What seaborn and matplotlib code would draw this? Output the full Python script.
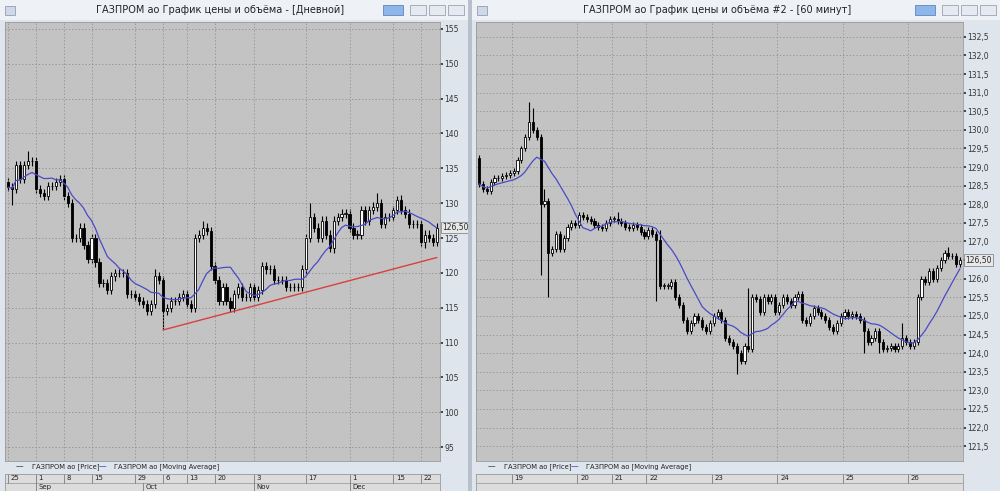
import numpy as np
import pandas as pd
import matplotlib
matplotlib.use("Agg")
import matplotlib.pyplot as plt
import seaborn as sns
from matplotlib.patches import Rectangle

# ---------------- data ----------------
left_title = "ГАЗПРОМ ао График цены и объёма - [Дневной]"
right_title = "ГАЗПРОМ ао График цены и объёма #2 - [60 минут]"
legend_price = "ГАЗПРОМ ао [Price]"
legend_ma = "ГАЗПРОМ ао [Moving Average]"

left_close = [132.3, 132.0, 135.5, 133.5, 135.5, 136.0, 136.0, 132.0, 131.5, 131.0, 132.5, 132.5,
              133.0, 133.5, 131.0, 130.0, 125.0, 125.0, 126.5, 124.0, 122.0, 125.0, 121.5, 118.5,
              118.5, 117.5, 119.5, 120.0, 120.0, 120.0, 117.0, 117.0, 116.5, 116.0, 115.5, 114.5,
              115.5, 119.5, 119.0, 114.5, 115.0, 116.0, 116.0, 116.5, 117.0, 115.5, 115.0, 125.0,
              125.5, 126.5, 126.0, 121.0, 119.0, 116.0, 118.0, 116.0, 115.0, 117.0, 118.0, 116.5,
              116.5, 118.0, 116.5, 117.5, 121.0, 120.5, 120.5, 119.0, 119.0, 119.0, 118.0, 118.0,
              118.0, 118.0, 120.5, 125.0, 128.0, 126.5, 125.0, 127.5, 125.5, 123.5, 127.5, 128.0,
              128.5, 128.5, 126.5, 125.5, 125.5, 129.0, 127.5, 129.0, 129.5, 130.0, 127.0, 128.0,
              128.0, 129.0, 130.5, 129.0, 128.5, 127.0, 127.0, 127.0, 124.5, 125.5, 125.0, 124.5,
              126.5]
left_first_open = 133.0
left_high_extra = {5: 137.5, 37: 120.5, 49: 127.5, 76: 130.0, 93: 131.5, 99: 131.2}
left_low_extra = {1: 129.8, 39: 112.0, 81: 123.0, 105: 123.5}
left_day_labels = ["25", "1", "8", "15", "29", "6", "13", "20", "3", "17", "1", "15", "22"]
left_day_idx = [0, 7, 14, 21, 32, 39, 45, 52, 62, 75, 86, 97, 104]
left_month_labels = ["Sep", "Oct", "Nov", "Dec"]
left_month_idx = [7, 34, 62, 86]
trend_idx = [39, 108]
trend_val = [111.8, 122.2]

right_pre = [128.55, 128.4, 128.35, 128.6, 128.7, 128.7, 128.75, 128.8, 128.85]
right_d19 = [128.9, 129.2, 129.5, 129.8, 130.2, 130.0, 129.8, 128.0, 128.1, 126.7, 126.8, 127.2,
             126.8, 127.1, 127.4, 127.5, 127.45]
right_d20 = [127.7, 127.65, 127.6, 127.55, 127.45, 127.4, 127.35, 127.5, 127.6]
right_d21 = [127.6, 127.55, 127.5, 127.4, 127.35, 127.45, 127.4, 127.25, 127.15]
right_d22 = [127.3, 127.2, 127.05, 125.8, 125.8, 125.8, 125.9, 125.5, 125.3, 124.9, 124.6, 124.8,
             125.0, 124.9, 124.7, 124.6, 124.8]
right_d23 = [125.0, 125.1, 124.9, 124.4, 124.3, 124.2, 124.0, 123.8, 124.2, 124.1, 125.5, 125.45,
             125.1, 125.5, 125.4, 125.5, 125.1]
right_d24 = [125.3, 125.5, 125.4, 125.3, 125.5, 125.6, 124.9, 124.8, 125.0, 125.2, 125.1, 125.0,
             124.9, 124.7, 124.6, 124.8, 125.0]
right_d25 = [125.1, 125.0, 125.05, 125.0, 124.9, 124.6, 124.3, 124.4, 124.6, 124.3, 124.1, 124.15,
             124.2, 124.1, 124.2, 124.4, 124.3]
right_d26 = [124.2, 124.3, 125.5, 126.0, 125.9, 126.2, 126.0, 126.3, 126.5, 126.7, 126.6, 126.6,
             126.4, 126.5]
right_first_open = 129.25
right_day_labels = ["19", "20", "21", "22", "23", "24", "25", "26"]
right_high_extra = {13: 130.75, 14: 130.6, 17: 128.4, 36: 127.8, 47: 127.3, 70: 125.75,
                    110: 124.8, 122: 126.85}
right_low_extra = {16: 126.1, 18: 125.5, 46: 125.4, 67: 123.45, 100: 124.0, 104: 124.0}

# ---------------- style ----------------
sns.set_theme(style="white")
plt.rcParams['font.family'] = ['DejaVu Sans']
PLOT_BG = "#c3c3c3"
FRAME = "#dfe5ec"
MA_COL = "#4a4ac8"

W, H = 1000, 491
fig = plt.figure(figsize=(10, 4.91), dpi=100)
fig.patch.set_facecolor(FRAME)


def fr(x0, y0, x1, y1):
    return [x0 / W, 1 - y1 / H, (x1 - x0) / W, (y1 - y0) / H]


def candles(ax, opens, closes, highs, lows, width):
    x = np.arange(len(closes))
    ax.vlines(x, lows, highs, color="black", lw=0.8, zorder=2)
    up = closes >= opens
    bottom = np.minimum(opens, closes)
    height = np.maximum(np.abs(closes - opens), 0.02)
    ax.bar(x[up], height[up], bottom=bottom[up], width=width, color="white",
           edgecolor="black", lw=0.6, zorder=3)
    ax.bar(x[~up], height[~up], bottom=bottom[~up], width=width, color="black",
           edgecolor="black", lw=0.6, zorder=3)


def build(closes, first_open, hx, lx, wick):
    c = np.array(closes, float)
    o = np.concatenate([[first_open], c[:-1]])
    h = np.maximum(o, c) + wick
    l = np.minimum(o, c) - wick
    for k, v in hx.items():
        h[k] = v
    for k, v in lx.items():
        l[k] = v
    return o, c, h, l


def window(x0, x1, title, ax_x1):
    fig.patches.append(Rectangle((x0 / W, 1 - 20 / H), (x1 - x0) / W, 20 / H,
                                 transform=fig.transFigure, facecolor="#eef2f7", edgecolor="none"))
    fig.text((x0 + ax_x1) / 2 / W, 1 - 10 / H, title, ha="center", va="center", fontsize=7,
             color="#222222")
    fig.patches.append(Rectangle(((x1 - 85) / W, 1 - 15 / H), 20 / W, 10 / H, transform=fig.transFigure,
                                 facecolor="#8fb6e8", edgecolor="#5f86c0", lw=0.6))
    for k in range(3):
        fig.patches.append(Rectangle(((x1 - 58 + k * 19) / W, 1 - 15 / H), 16 / W, 10 / H,
                                     transform=fig.transFigure, facecolor="#e6eaf0",
                                     edgecolor="#9aa4b0", lw=0.6))
    fig.patches.append(Rectangle(((x0 + 5) / W, 1 - 15 / H), 10 / W, 9 / H, transform=fig.transFigure,
                                 facecolor="#d0d8e8", edgecolor="#8090a8", lw=0.5))


def panel(x0, x1, closes, o, h, l, ylim, yticks, fmt, ma_win, width):
    ax = fig.add_axes(fr(x0, 22, x1, 461))
    ax.set_facecolor(PLOT_BG)
    candles(ax, o, closes, h, l, width)
    ma = pd.Series(closes).rolling(ma_win, min_periods=1).mean()
    sns.lineplot(x=np.arange(len(closes)), y=ma.values, ax=ax, color=MA_COL, lw=0.9, zorder=4)
    ax.set_xlim(-0.8, len(closes) - 0.2)
    ax.set_ylim(*ylim)
    ax.set_xticks([])
    ax.set_xlabel("")
    ax.yaxis.tick_right()
    last = closes[-1]
    ax.set_yticks(yticks)
    ax.set_yticklabels(["" if abs(v - last) < 1e-9 else fmt(v) for v in yticks],
                       fontsize=5.5, color="#333333")
    ax.tick_params(axis="y", length=2, pad=1, colors="#333333")
    ax.grid(True, axis="y", color="#8c8c8c", ls=(0, (1.5, 2.5)), lw=0.6)
    for s in ax.spines.values():
        s.set_color("#9a9a9a")
        s.set_linewidth(0.6)
    ax.text(1.005, last, f"{last:.2f}".replace(".", ","),
            transform=ax.get_yaxis_transform(), fontsize=5.5, va="center", ha="left",
            bbox=dict(boxstyle="square,pad=0.15", fc="#e8e8e8", ec="#777777", lw=0.5))
    return ax


def legend(x0):
    y = 1 - 467 / H
    fig.text((x0 + 16) / W, y, "—", color="#444444", fontsize=5.5, va="center")
    fig.text((x0 + 32) / W, y, legend_price, color="#222222", fontsize=4.9, va="center")
    fig.text((x0 + 99) / W, y, "—", color=MA_COL, fontsize=5.5, va="center")
    fig.text((x0 + 114) / W, y, legend_ma, color="#222222", fontsize=4.9, va="center")


def date_axis(x0, x1, n, day_idx, day_labels, month_idx=None, month_labels=None):
    ax = fig.add_axes(fr(x0, 474, x1, 491))
    ax.set_facecolor("#dcdcdc")
    ax.set_xlim(-0.8, n - 0.2)
    ax.set_ylim(0, 2)
    ax.set_xticks([])
    ax.set_yticks([])
    ax.axhline(1, color="#a0a0a0", lw=0.6)
    for i, lab in zip(day_idx, day_labels):
        ax.plot([i, i], [1, 2], color="#7a7a7a", lw=0.6)
        ax.text(i + n * 0.006, 1.5, lab, fontsize=5.0, va="center", color="#222222")
    if month_idx:
        for i, lab in zip(month_idx, month_labels):
            ax.plot([i, i], [0, 1], color="#7a7a7a", lw=0.6)
            ax.text(i + n * 0.006, 0.5, lab, fontsize=5.0, va="center", color="#222222")
    for s in ax.spines.values():
        s.set_color("#9a9a9a")
        s.set_linewidth(0.6)
    return ax


# ---------------- left window ----------------
window(0, 468, left_title, 440)
lo, lc, lh, ll = build(left_close, left_first_open, left_high_extra, left_low_extra, 0.6)
axl = panel(5, 440, lc, lo, lh, ll, (93, 156), list(range(95, 160, 5)), lambda v: f"{v:d}", 10, 0.55)
for i in left_day_idx:
    axl.axvline(i, color="#8c8c8c", ls=(0, (1.5, 2.5)), lw=0.6)
axl.plot(trend_idx, trend_val, color="#d84040", lw=1.0, zorder=5)
legend(0)
date_axis(5, 440, len(left_close), left_day_idx, left_day_labels, left_month_idx, left_month_labels)

# ---------------- right window ----------------
window(472, 1000, right_title, 963)
segments = [right_pre, right_d19, right_d20, right_d21, right_d22, right_d23, right_d24, right_d25,
            right_d26]
rc_list = [v for seg in segments for v in seg]
starts = list(np.cumsum([len(s) for s in segments])[:-1] - 0.5)
ro, rc, rh, rl = build(rc_list, right_first_open, right_high_extra, right_low_extra, 0.08)
rt = [round(121.5 + 0.5 * k, 1) for k in range(23)]
axr = panel(476, 963, rc, ro, rh, rl, (121.1, 132.9), rt, lambda v: f"{v:.1f}".replace(".", ","), 12, 0.55)
for i in starts:
    axr.axvline(i, color="#8c8c8c", ls=(0, (1.5, 2.5)), lw=0.6)
legend(472)
date_axis(476, 963, len(rc_list), starts, right_day_labels)

fig.patches.append(Rectangle((468 / W, 0), 4 / W, 1, transform=fig.transFigure,
                             facecolor="#b8c0cc", edgecolor="none"))

fig.savefig("out.png", dpi=100, facecolor=fig.get_facecolor())
